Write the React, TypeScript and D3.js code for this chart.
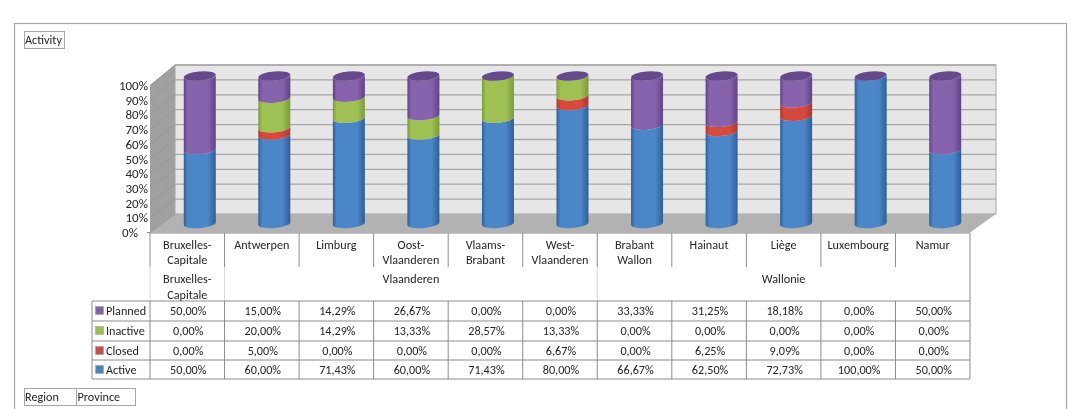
import React from "react";
import * as d3 from "d3";

const provinces = ["Bruxelles-\nCapitale","Antwerpen","Limburg","Oost-\nVlaanderen","Vlaams-\nBrabant","West-\nVlaanderen","Brabant\nWallon","Hainaut","Liège","Luxembourg","Namur"];
const regions = [{name:"Bruxelles-\nCapitale",from:0,to:1},{name:"Vlaanderen",from:1,to:6},{name:"Wallonie",from:6,to:11}];
const seriesNames = ["Active","Closed","Inactive","Planned"];
const active = [50,60,71.43,60,71.43,80,66.67,62.5,72.73,100,50];
const closed = [0,5,0,0,0,6.67,0,6.25,9.09,0,0];
const inactive = [0,20,14.29,13.33,28.57,13.33,0,0,0,0,0];
const planned = [50,15,14.29,26.67,0,0,33.33,31.25,18.18,0,50];
const ticks = [0,10,20,30,40,50,60,70,80,90,100];
const seriesValues = [active,closed,inactive,planned];
const base = ["#4c86c8","#d8483c","#9fc152","#8763ad"];
const edge = ["#2f5f95","#a93a33","#7c9a3e","#5f4485"];
const topFill = "#664a8c";
const legend = ["#4f81bd","#c0504d","#9bbb59","#8064a2"];

const FONT = "Carlito, Lato, 'Open Sans', sans-serif";
const TXT = "#262626";
const LINE = "#8c8c8c";
const FS = 12.2;

export default function App() {
  const x = d3.scaleBand<number>().domain(d3.range(11)).range([150, 970]).paddingInner(0).paddingOuter(0);
  const yFront = d3.scaleLinear().domain([0,100]).range([232.5,85.5]);
  const yBack = d3.scaleLinear().domain([0,100]).range([214,65]);
  const yCyl = d3.scaleLinear().domain([0,100]).range([223.5,76]);
  const rowY = [301,321,341,360,379];
  const col = x.bandwidth();
  const rx = 16, ry = 4.6, tilt = 1.6;
  const fmt = (v:number)=> v.toFixed(2).replace(".",",")+"%";
  const cx = (i:number)=> x(i)! + col/2 + 12.5;
  const backX0 = 175, backX1 = 996;

  return (
    <svg width={1074} height={409} style={{position:"absolute",left:0,top:0,background:"#fff"}} fontFamily={FONT}>
      <defs>
        {base.map((c,i)=>(
          <linearGradient key={i} id={`g${i}`} x1="0" x2="1" y1="0" y2="0">
            <stop offset="0" stopColor={edge[i]}/>
            <stop offset="0.12" stopColor={c}/>
            <stop offset="0.75" stopColor={c}/>
            <stop offset="1" stopColor={edge[i]}/>
          </linearGradient>
        ))}
        <filter id="soft" x="0" y="0" width="100%" height="100%" filterUnits="userSpaceOnUse">
          <feGaussianBlur stdDeviation="0.35"/>
        </filter>
      </defs>
      <g filter="url(#soft)">
      <rect x={0} y={0} width={1074} height={409} fill="#fff"/>
      <rect x={14.5} y={23.5} width={1052} height={400} fill="#fff" stroke="#a6a6a6" strokeWidth={1.2}/>
      <rect x={24.5} y={31.5} width={40} height={17} fill="#fff" stroke="#a6a6a6"/>
      <text x={25} y={44} fontSize={FS} fill={TXT}>Activity</text>

      <rect x={backX0} y={yBack(100)} width={backX1-backX0} height={yBack(0)-yBack(100)} fill="#e6e6e6" stroke="#a8a8a8"/>
      <path d={`M${150},${yFront(100)}L${backX0},${yBack(100)}L${backX0},${yBack(0)}L150,${yFront(0)}Z`} fill="#a0a0a0"/>
      <path d={`M150,${yFront(0)}L${backX0},${yBack(0)}L${backX1},${yBack(0)}L970,${yFront(0)}Z`} fill="#b2b2b2"/>
      {ticks.map(t=>(
        <g key={t}>
          <line x1={150} x2={backX0} y1={yFront(t)} y2={yBack(t)} stroke="#969696" strokeWidth={1}/>
          {t>0 && <line x1={backX0} x2={backX1} y1={yBack(t)} y2={yBack(t)} stroke="#a6a6a6" strokeWidth={1.3}/>}
          <text x={t===0?138:148} y={yFront(t)+4.5} textAnchor="end" fontSize={13} fill={TXT}>{t}%</text>
        </g>
      ))}
      <line x1={147} x2={150} y1={yFront(0)} y2={yFront(0)} stroke={LINE}/>

      {provinces.map((_,i)=>{
        let acc = 0;
        const c = cx(i);
        const l = c-rx, r = c+rx;
        const segs = seriesValues.map((vals,s)=>{
          const v = vals[i];
          const y0 = yCyl(acc), y1 = yCyl(acc+v);
          acc += v;
          if (v===0) return null;
          const d = `M${l},${y1+tilt}A${rx},${ry} -5 0 0 ${r},${y1-tilt}L${r},${y0-tilt}A${rx},${ry} -5 0 1 ${l},${y0+tilt}Z`;
          return <path key={s} d={d} fill={`url(#g${s})`}/>;
        });
        return (
          <g key={i}>
            {segs}
            <ellipse cx={c} cy={yCyl(100)} rx={rx} ry={ry} transform={`rotate(-5 ${c} ${yCyl(100)})`} fill={topFill}/>
          </g>
        );
      })}

      <g stroke={LINE} strokeWidth={1}>
        <line x1={150} x2={970} y1={233} y2={233}/>
        {d3.range(12).map(i=>{
          const px = i===11 ? 970 : x(i)!;
          return <line key={i} x1={px} x2={px} y1={233} y2={267}/>;
        })}
        <line x1={150} x2={150} y1={267} y2={301} stroke="#d9d9d9"/>
        {regions.map(rg=>{
          const px = rg.to===11 ? 970 : x(rg.to)!;
          return <line key={rg.name} x1={px} x2={px} y1={267} y2={301} stroke={rg.to===11?LINE:"#d9d9d9"}/>;
        })}
        {rowY.map(y=><line key={y} x1={92} x2={970} y1={y} y2={y}/>)}
        <line x1={92} x2={92} y1={301} y2={379}/>
        {d3.range(12).map(i=>{
          const px = i===11 ? 970 : x(i)!;
          return <line key={i} x1={px} x2={px} y1={301} y2={379}/>;
        })}
      </g>
      {provinces.map((p,i)=>{
        const lines = p.split("\n");
        return <text key={p} x={x(i)!+col/2} textAnchor="middle" fontSize={FS} fill={TXT}>
          {lines.map((t,j)=><tspan key={j} x={x(i)!+col/2} y={249+j*15}>{t}</tspan>)}
        </text>;
      })}
      {regions.map(rg=>{
        const xa = x(rg.from)!, xb = rg.to===11 ? 970 : x(rg.to)!;
        const lines = rg.name.split("\n");
        const mid = (xa+xb)/2;
        return <text key={rg.name} textAnchor="middle" fontSize={FS} fill={TXT}>
          {lines.map((t,j)=><tspan key={j} x={mid} y={283+j*16}>{t}</tspan>)}
        </text>;
      })}
      {[3,2,1,0].map((s,row)=>(
        <g key={s}>
          <rect x={95.5} y={rowY[row]+5.5} width={8} height={8} fill={legend[s]} stroke="#999" strokeWidth={0.5}/>
          <text x={106} y={rowY[row]+14} fontSize={FS} fill={TXT}>{seriesNames[s]}</text>
          {seriesValues[s].map((v,i)=>(
            <text key={i} x={x(i)!+col/2+1} y={rowY[row]+14} textAnchor="middle" fontSize={FS} fill={TXT}>{fmt(v)}</text>
          ))}
        </g>
      ))}
      <rect x={24.5} y={388.5} width={111} height={17} fill="#fff" stroke="#a6a6a6"/>
      <line x1={76.5} x2={76.5} y1={388.5} y2={405.5} stroke="#a6a6a6"/>
      <text x={25} y={401} fontSize={FS} fill={TXT}>Region</text>
      <text x={77.5} y={401} fontSize={FS} fill={TXT}>Province</text>
      </g>
    </svg>
  );
}
